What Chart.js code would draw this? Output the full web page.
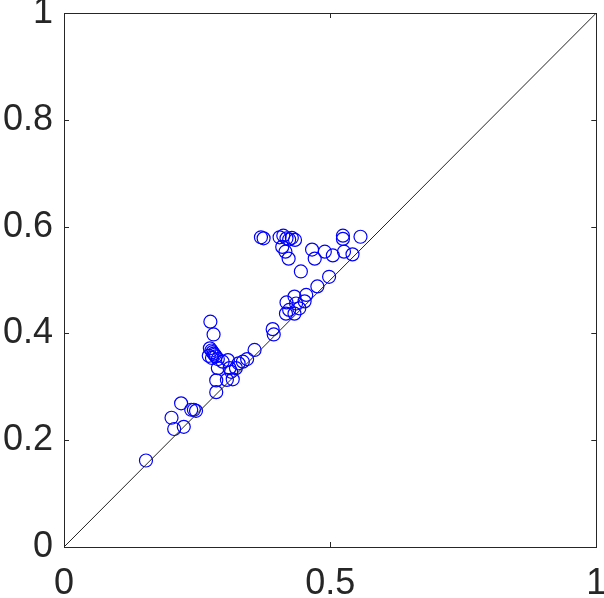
<!DOCTYPE html>
<html>
<head>
<meta charset="utf-8">
<script src="https://cdn.jsdelivr.net/npm/chart.js@4"></script>
<style>
html,body{margin:0;padding:0;background:#fff;}
#wrap{width:604px;height:598px;position:relative;}
</style>
</head>
<body>
<div id="wrap"><canvas id="c"></canvas></div>
<script>
// Data
const xValues = [0.154,0.202,0.207,0.220,0.225,0.239,0.244,0.248,
  0.275,0.281,0.272,0.274,0.277,0.279,0.281,0.283,0.285,0.278,0.289,0.289,0.286,0.286,
  0.298,0.308,0.311,0.314,0.306,0.317,0.323,0.328,0.336,0.344,0.358,0.392,0.394,
  0.417,0.423,0.433,0.436,0.418,0.442,0.433,0.452,0.455,0.476,0.498,0.445,
  0.370,0.375,0.405,0.412,0.418,0.423,0.428,0.434,0.410,0.416,0.422,
  0.466,0.471,0.490,0.505,0.524,0.524,0.526,0.542,0.557];
const yValues = [0.162,0.242,0.221,0.269,0.225,0.257,0.257,0.255,
  0.422,0.398,0.358,0.372,0.368,0.365,0.362,0.360,0.357,0.354,0.352,0.335,0.312,0.290,
  0.347,0.350,0.335,0.328,0.313,0.314,0.335,0.344,0.347,0.352,0.369,0.408,0.398,
  0.437,0.444,0.437,0.456,0.458,0.447,0.469,0.460,0.472,0.488,0.506,0.516,
  0.580,0.578,0.580,0.583,0.578,0.576,0.579,0.575,0.562,0.553,0.540,
  0.557,0.540,0.553,0.546,0.583,0.577,0.553,0.548,0.581];
const diagX = [0, 1];
const diagY = [0, 1];
const xTickValues = [0, 0.5, 1];
const yTickValues = [0, 0.2, 0.4, 0.6, 0.8, 1];

const points = xValues.map((x, i) => ({x: x, y: yValues[i]}));
const diag = diagX.map((x, i) => ({x: x, y: diagY[i]}));

const axisColor = '#262626';
const fontSpec = {family: '"Liberation Sans", Arial, Helvetica, sans-serif', size: 36};
const fmt = v => String(Math.round(v * 10) / 10);

const boxPlugin = {
  id: 'box',
  afterDraw(chart) {
    const {ctx, chartArea: a, scales} = chart;
    ctx.save();
    ctx.strokeStyle = axisColor;
    ctx.lineWidth = 1;
    ctx.strokeRect(Math.round(a.left) + 0.5, Math.round(a.top) + 0.5,
      Math.round(a.right - a.left), Math.round(a.bottom - a.top));
    const len = 5;
    ctx.beginPath();
    xTickValues.forEach(v => {
      const px = Math.round(scales.x.getPixelForValue(v)) + 0.5;
      ctx.moveTo(px, a.bottom); ctx.lineTo(px, a.bottom - len);
      ctx.moveTo(px, a.top); ctx.lineTo(px, a.top + len);
    });
    yTickValues.forEach(v => {
      const py = Math.round(scales.y.getPixelForValue(v)) + 0.5;
      ctx.moveTo(a.left, py); ctx.lineTo(a.left + len, py);
      ctx.moveTo(a.right, py); ctx.lineTo(a.right - len, py);
    });
    ctx.stroke();
    ctx.restore();
  }
};

new Chart(document.getElementById('c'), {
  type: 'scatter',
  data: {
    datasets: [
      {
        data: diag,
        showLine: true,
        borderColor: '#222222',
        borderWidth: 1,
        pointRadius: 0,
        fill: false
      },
      {
        data: points,
        borderColor: '#0000ff',
        backgroundColor: 'rgba(0,0,0,0)',
        borderWidth: 1.2,
        pointRadius: 6.5,
        pointStyle: 'circle'
      }
    ]
  },
  options: {
    responsive: true,
    maintainAspectRatio: false,
    animation: false,
    layout: {padding: {top: 13, right: 6, left: 0, bottom: 0}},
    plugins: {legend: {display: false}, tooltip: {enabled: false}},
    scales: {
      x: {
        type: 'linear', min: 0, max: 1,
        afterFit: s => { s.height = 51; s.paddingLeft = 0; s.paddingRight = 0; },
        afterBuildTicks: s => { s.ticks = xTickValues.map(v => ({value: v})); },
        grid: {display: false, drawTicks: false},
        border: {display: false},
        ticks: {color: axisColor, font: fontSpec, padding: 15, maxRotation: 0, autoSkip: false, callback: fmt}
      },
      y: {
        type: 'linear', min: 0, max: 1,
        afterFit: s => { s.width = 64; s.paddingTop = 0; s.paddingBottom = 0; },
        afterBuildTicks: s => { s.ticks = yTickValues.map(v => ({value: v})); },
        grid: {display: false, drawTicks: false},
        border: {display: false},
        ticks: {color: axisColor, font: fontSpec, padding: 11, autoSkip: false, callback: fmt}
      }
    }
  },
  plugins: [boxPlugin]
});
</script>
</body>
</html>
